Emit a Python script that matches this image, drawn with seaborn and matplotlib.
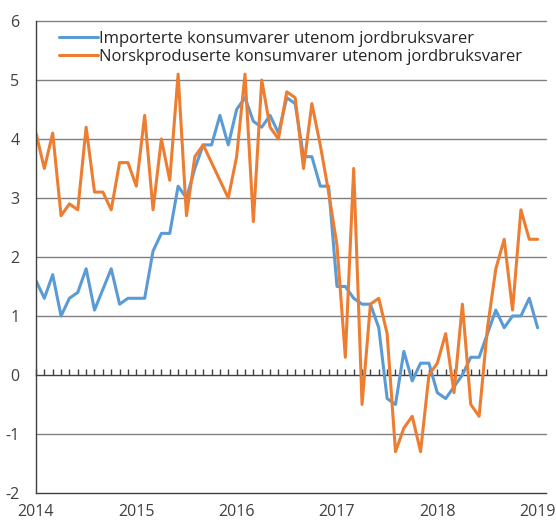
import pandas as pd
import numpy as np
import matplotlib
matplotlib.use("Agg")
import matplotlib.pyplot as plt
import seaborn as sns

# =============================
# DATA (monthly, Jan 2014 - Jan 2019)
# =============================

start_year = 2014
n_months = 61

importerte = [1.6, 1.3, 1.7, 1.0, 1.3, 1.4, 1.8, 1.1, 1.45, 1.8, 1.2, 1.3,
              1.3, 1.3, 2.1, 2.4, 2.4, 3.2, 3.0, 3.5, 3.9, 3.9, 4.4, 3.9,
              4.5, 4.7, 4.3, 4.2, 4.4, 4.1, 4.7, 4.6, 3.7, 3.7, 3.2, 3.2,
              1.5, 1.5, 1.3, 1.2, 1.2, 0.8, -0.4, -0.5, 0.4, -0.1, 0.2, 0.2,
              -0.3, -0.4, -0.2, 0.0, 0.3, 0.3, 0.7, 1.1, 0.8, 1.0, 1.0, 1.3,
              0.8]

norskproduserte = [4.1, 3.5, 4.1, 2.7, 2.9, 2.8, 4.2, 3.1, 3.1, 2.8, 3.6, 3.6,
                   3.2, 4.4, 2.8, 4.0, 3.3, 5.1, 2.7, 3.7, 3.9, 3.6, 3.3, 3.0,
                   3.7, 5.1, 2.6, 5.0, 4.2, 4.0, 4.8, 4.7, 3.5, 4.6, 3.9, 3.1,
                   2.2, 0.3, 3.5, -0.5, 1.2, 1.3, 0.7, -1.3, -0.9, -0.7, -1.3, 0.0,
                   0.2, 0.7, -0.3, 1.2, -0.5, -0.7, 0.8, 1.8, 2.3, 1.1, 2.8, 2.3,
                   2.3]

labels = ["Importerte konsumvarer utenom jordbruksvarer",
          "Norskproduserte konsumvarer utenom jordbruksvarer"]
colors = ["#5B9BD5", "#ED7D31"]

year_ticks = [2014, 2015, 2016, 2017, 2018, 2019]
y_ticks = [-2, -1, 0, 1, 2, 3, 4, 5, 6]

# =============================
# BUILD LONG TABLE
# =============================

x = start_year + np.arange(n_months) / 12
df = pd.concat([
    pd.DataFrame({"x": x, "value": importerte, "serie": labels[0]}),
    pd.DataFrame({"x": x, "value": norskproduserte, "serie": labels[1]}),
])

# =============================
# PLOT
# =============================

sns.set_style("white")
plt.rcParams['font.family'] = ['Open Sans', 'DejaVu Sans']
plt.rcParams['axes.unicode_minus'] = False

fig = plt.figure(figsize=(5.56, 5.2), dpi=100)
ax = fig.add_axes([0.0647, 0.052, 0.9173, 0.9076])

for yv in y_ticks:
    if yv not in (-2, 0):
        ax.axhline(yv, color="#808080", lw=1.0, zorder=0, clip_on=False)

sns.lineplot(data=df, x="x", y="value", hue="serie", palette=colors,
             linewidth=2.2, ax=ax, legend=True)

ax.set_xlim(start_year, start_year + n_months / 12)
ax.set_ylim(-2, 6)
ax.set_xticks(year_ticks)
ax.set_xticklabels([str(y) for y in year_ticks])
ax.set_yticks(y_ticks)
ax.set_xlabel("")
ax.set_ylabel("")
ax.tick_params(axis="both", length=0, labelsize=11.5, colors="#404040")
ax.tick_params(axis="y", pad=12)
ax.tick_params(axis="x", pad=8)

for side in ["top", "right"]:
    ax.spines[side].set_visible(False)
ax.spines["left"].set_color("#404040")
ax.spines["bottom"].set_color("#404040")
ax.spines["left"].set_linewidth(1.0)
ax.spines["bottom"].set_linewidth(1.0)

# zero line with monthly tick marks
zero = ax.secondary_xaxis(0.25)
zero.set_xticks(start_year + np.arange(n_months + 1) / 12)
zero.tick_params(axis="x", direction="in", length=4, width=1, color="#404040",
                 labelbottom=False, labeltop=False)
zero.spines["bottom"].set_color("#404040")
zero.spines["bottom"].set_linewidth(1.0)

leg = ax.legend(loc="upper left", bbox_to_anchor=(0.033, 0.993), frameon=False,
                fontsize=12, handlelength=2.3, handletextpad=0.1,
                labelspacing=0.1, borderaxespad=0.0, labelcolor="#262626")

fig.savefig("out.png", dpi=100)
plt.close()
